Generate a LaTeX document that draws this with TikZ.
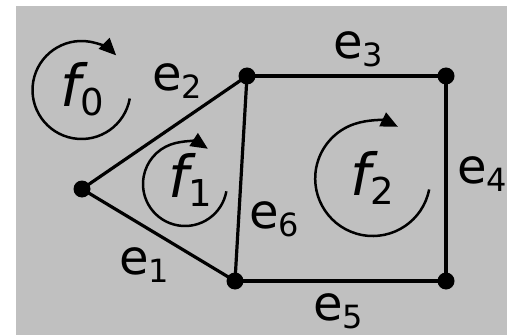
\documentclass[tikz,border=0pt]{standalone}
\usepackage{fontspec}
\setmainfont{DejaVu Sans}
\usetikzlibrary{arrows.meta}
\definecolor{bggrey}{HTML}{C0C0C0}
\newcommand\elab[2]{\fontsize{48}{48}\selectfont #1\raisebox{-8pt}{\fontsize{32}{32}\selectfont #2}}
\newcommand\flab[2]{\fontsize{58}{58}\selectfont\itshape #1\raisebox{-9pt}{\upshape\fontsize{37}{37}\selectfont #2}}
\tikzset{
  dot/.style={circle,fill=black,inner sep=0pt,minimum size=17pt},
  edge/.style={line width=3.2pt},
  facearc/.style={line width=2.5pt,-{Triangle[length=17pt,width=15pt]}},
  lab/.style={inner sep=0pt,anchor=base west}
}
\begin{document}
\begin{tikzpicture}[x=1pt,y=1pt]
\useasboundingbox (0,0) rectangle (508,335);
\fill[bggrey] (16,0) rectangle (507,329);
\node[dot] (A) at (82,146) {};
\node[dot] (B) at (247,259) {};
\node[dot] (C) at (235,54) {};
\node[dot] (D) at (446,259) {};
\node[dot] (E) at (446,54) {};
\draw[edge] (A.center) -- (C.center);
\draw[edge] (A.center) -- (B.center);
\draw[edge] (B.center) -- (D.center);
\draw[edge] (D.center) -- (E.center);
\draw[edge] (C.center) -- (E.center);
\draw[edge] (B.center) -- (C.center);
\coordinate (c0) at (81.5,245);
\coordinate (c1) at (185,151);
\coordinate (c2) at (372.7,156.5);
\draw[facearc] (c0) ++(-10:49pt) arc[start angle=-10,end angle=-315,radius=49pt];
\draw[facearc] (c1) ++(-10:42pt) arc[start angle=-10,end angle=-303,radius=42pt];
\draw[facearc] (c2) ++(-11:57.5pt) arc[start angle=-11,end angle=-296,radius=57.5pt];
\node[lab] (l2) at (152,244) {\elab{e}{2}};
\node[lab] (l3) at (333,276) {\elab{e}{3}};
\node[lab] (l1) at (119,61) {\elab{e}{1}};
\node[lab] (l5) at (313,15) {\elab{e}{5}};
\node[lab] (l6) at (249,107) {\elab{e}{6}};
\node[lab] (l4) at (457,152) {\elab{e}{4}};
\node[lab] (lf0) at (60,228) {\flab{f}{0}};
\node[lab] (lf1) at (168,138) {\flab{f}{1}};
\node[lab] (lf2) at (350,140) {\flab{f}{2}};
\end{tikzpicture}
\end{document}
